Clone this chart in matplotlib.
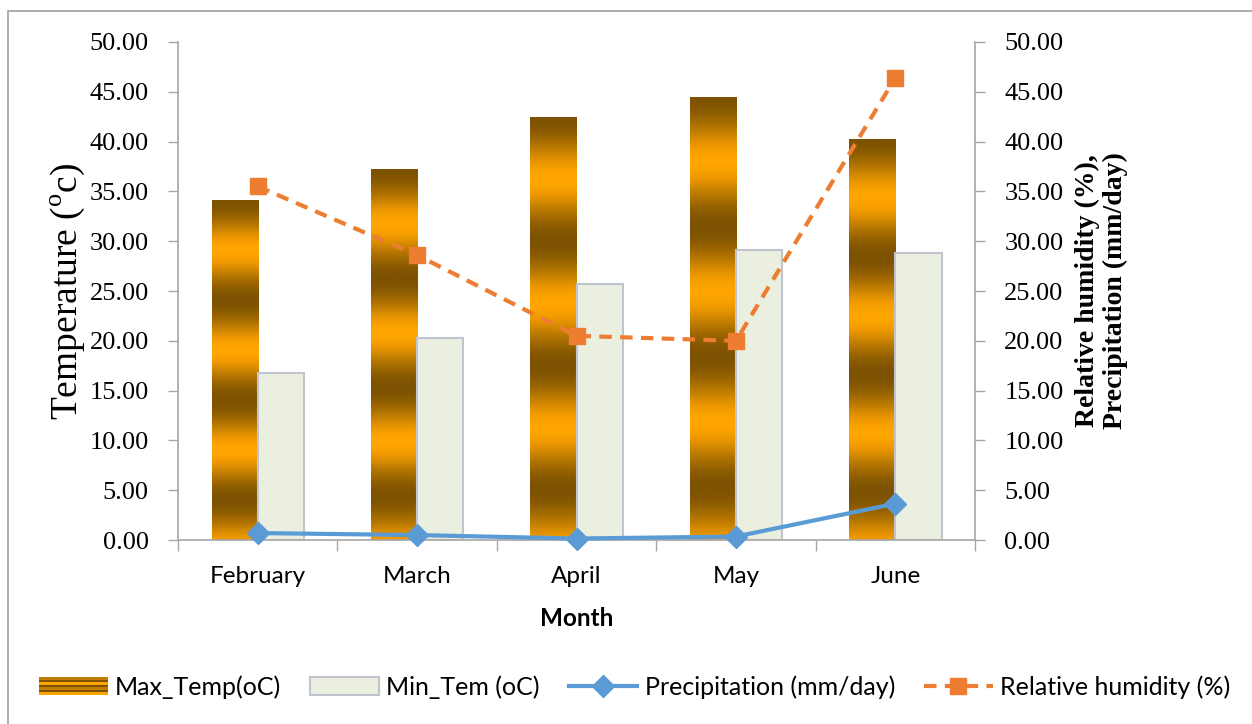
import numpy as np
import matplotlib
matplotlib.use("Agg")
import matplotlib.pyplot as plt
from matplotlib.colors import LinearSegmentedColormap
from matplotlib.patches import Rectangle
from matplotlib.lines import Line2D
from matplotlib.legend_handler import HandlerBase
from matplotlib.ticker import FormatStrFormatter, FixedLocator

# Monthly climate data
months = ["February", "March", "April", "May", "June"]
max_temp = [34.1, 37.2, 42.5, 44.5, 40.3]
min_temp = [16.8, 20.3, 25.7, 29.1, 28.8]
precip = [0.7, 0.5, 0.15, 0.35, 3.65]
rel_hum = [35.5, 28.6, 20.5, 20.0, 46.4]

SERIF = "Liberation Serif"
SANS = "Lato"
plt.rcParams["mathtext.fontset"] = "custom"
plt.rcParams["mathtext.rm"] = SERIF

DARK = "#7d5200"
MID = "#c07d00"
ORANGE = "#ffa500"
band_cmap = LinearSegmentedColormap.from_list(
    "bands", [(0.0, DARK), (0.55, MID), (0.85, "#eb9700"), (1.0, ORANGE)])
BLUE = "#5b9bd5"
RH_ORANGE = "#ed7d31"
MIN_FACE = "#ebefe0"
MIN_EDGE = "#c0c4ce"
GRID_GRAY = "#a6a6a6"

fig = plt.figure(figsize=(12.52, 7.24), dpi=100)
ax = fig.add_axes([0.1422, 0.2541, 0.6366, 0.6879])

x = np.arange(len(months))
bw = 0.29

ax.set_xlim(-0.5, len(months) - 0.5)
ax.set_ylim(0, 50)

# Max temperature bars with banded metallic fill
for xi, h in zip(x, max_temp):
    x0, x1 = xi - bw, xi
    rect = Rectangle((x0, 0), bw, h, facecolor="none", edgecolor="none", zorder=2)
    ax.add_patch(rect)
    yy = np.linspace(0, 1, 400)
    vals = 0.5 - 0.5 * np.cos(2 * np.pi * 3.4 * (1 - yy))
    img = ax.imshow(vals[:, None], cmap=band_cmap, aspect="auto", origin="lower",
                    extent=[x0, x1, 0, h], zorder=2, interpolation="bilinear")
    img.set_clip_path(rect)

# Min temperature bars
ax.bar(x + bw / 2, min_temp, width=bw, color=MIN_FACE, edgecolor=MIN_EDGE,
       linewidth=1.5, zorder=2)

ax.set_xlim(-0.5, len(months) - 0.5)
ax.set_ylim(0, 50)

ax.set_yticks(np.arange(0, 50.01, 5))
ax.yaxis.set_major_formatter(FormatStrFormatter("%.2f"))
ax.set_xticks(x)
ax.set_xticklabels(months, fontfamily=SANS, fontsize=17.5)
ax.xaxis.set_minor_locator(FixedLocator(np.arange(-0.5, len(months), 1.0)))
ax.tick_params(axis="x", which="major", length=0, pad=19)
ax.tick_params(axis="x", which="minor", length=8, width=1, color=GRID_GRAY)
ax.tick_params(axis="y", length=7, width=1, color=GRID_GRAY, pad=14,
               labelsize=19)
for lab in ax.get_yticklabels():
    lab.set_fontfamily(SERIF)

for side in ["top", "right"]:
    ax.spines[side].set_visible(False)
for side in ["left", "bottom"]:
    ax.spines[side].set_color(GRID_GRAY)
    ax.spines[side].set_linewidth(1.2)

ax.set_xlabel("Month", fontfamily=SANS, fontsize=17.5, fontweight="bold", labelpad=14)
ax.set_ylabel(r"Temperature ($^{\mathregular{o}}$c)", fontfamily=SERIF,
              fontsize=27, labelpad=2)

# Secondary axis: humidity and precipitation
ax2 = ax.twinx()
ax2.set_ylim(0, 50)
ax2.set_yticks(np.arange(0, 50.01, 5))
ax2.yaxis.set_major_formatter(FormatStrFormatter("%.2f"))
ax2.tick_params(axis="y", length=7, width=1, color=GRID_GRAY, pad=14, labelsize=19)
for lab in ax2.get_yticklabels():
    lab.set_fontfamily(SERIF)
for side in ["top", "left", "bottom"]:
    ax2.spines[side].set_visible(False)
ax2.spines["right"].set_color(GRID_GRAY)
ax2.spines["right"].set_linewidth(1.2)

ax2.plot(x, precip, color=BLUE, linewidth=3, marker="D", markersize=11,
         markerfacecolor=BLUE, markeredgecolor=BLUE, zorder=4, clip_on=False)
ax2.plot(x, rel_hum, color=RH_ORANGE, linewidth=3, linestyle=(0, (3, 2)),
         marker="s", markersize=12, markerfacecolor=RH_ORANGE,
         markeredgecolor=RH_ORANGE, zorder=4, clip_on=False)
ax2.set_ylabel("Relative humidity (%),\nPrecipitation (mm/day)", fontfamily=SERIF,
               fontsize=20, fontweight="bold", labelpad=8, linespacing=1.15)


class StripedHandler(HandlerBase):
    """Legend key drawn as thin horizontal dark/orange stripes."""
    def create_artists(self, legend, orig_handle, xdescent, ydescent,
                       width, height, fontsize, trans):
        artists = []
        cols = [ORANGE, DARK, MID, DARK, ORANGE, DARK, MID]
        n = len(cols)
        hh = height / n
        for i in range(n):
            r = Rectangle((-xdescent, -ydescent + i * hh), width, hh,
                          facecolor=cols[i], edgecolor="none",
                          transform=trans)
            artists.append(r)
        return artists


max_handle = Rectangle((0, 0), 1, 1, facecolor=ORANGE)
min_handle = Rectangle((0, 0), 1, 1, facecolor=MIN_FACE, edgecolor=MIN_EDGE,
                       linewidth=1.5)
pr_handle = Line2D([], [], color=BLUE, linewidth=3, marker="D", markersize=11)
rh_handle = Line2D([], [], color=RH_ORANGE, linewidth=3, linestyle=(0, (3, 2)),
                   marker="s", markersize=12)

leg = fig.legend([max_handle, min_handle, pr_handle, rh_handle],
                 ["Max_Temp(oC)", "Min_Tem (oC)", "Precipitation (mm/day)",
                  "Relative humidity (%)"],
                 handler_map={max_handle: StripedHandler()},
                 loc="center", bbox_to_anchor=(0.507, 0.051), ncol=4,
                 frameon=False, prop={"family": SANS, "size": 18},
                 handlelength=2.75, handleheight=0.7, handletextpad=0.3,
                 columnspacing=1.15)

# Outer chart frame
frame = Rectangle((8 / 1252, -0.1), 1.2, 1 - 11 / 724 + 0.1,
                  transform=fig.transFigure, facecolor="none",
                  edgecolor="#9f9f9f", linewidth=1.2)
fig.patches.append(frame)

fig.savefig("out.png", dpi=100)
